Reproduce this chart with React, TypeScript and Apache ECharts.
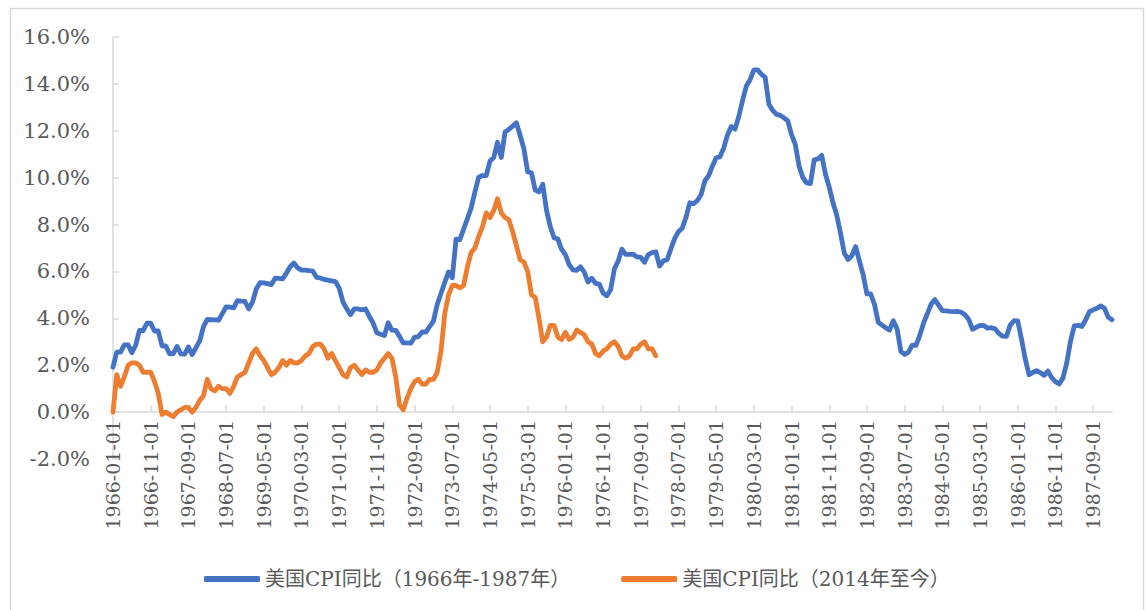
import React, { useEffect, useRef } from "react";
import * as echarts from "echarts";

const START_YEAR = 1966;
const START_MONTH = 1;

// 美国CPI同比（1966年-1987年）, monthly from 1966-01 to 1988-02, %
const cpi1966 = [
  1.92, 2.56, 2.56, 2.87, 2.87, 2.53, 2.85, 3.48, 3.48, 3.79, 3.79, 3.46,
  3.46, 2.83, 2.82, 2.49, 2.49, 2.80, 2.48, 2.47, 2.78, 2.45, 2.75, 3.04,
  3.65, 3.95, 3.94, 3.93, 3.92, 4.20, 4.49, 4.48, 4.45, 4.75, 4.73, 4.72,
  4.40, 4.69, 5.25, 5.52, 5.51, 5.48, 5.44, 5.71, 5.70, 5.68, 5.93, 6.20,
  6.36, 6.15, 6.06, 6.06, 6.04, 6.01, 5.75, 5.72, 5.66, 5.63, 5.60, 5.57,
  5.29, 4.70, 4.40, 4.16, 4.40, 4.40, 4.36, 4.40, 4.08, 3.80, 3.38, 3.32,
  3.27, 3.81, 3.50, 3.49, 3.23, 2.95, 2.95, 2.94, 3.19, 3.22, 3.42, 3.41,
  3.65, 3.88, 4.59, 5.06, 5.53, 5.98, 5.73, 7.38, 7.36, 7.80, 8.25, 8.71,
  9.39, 10.02, 10.09, 10.09, 10.71, 10.86, 11.51, 10.86, 11.95, 12.06, 12.20, 12.34,
  11.80, 11.23, 10.25, 10.21, 9.47, 9.39, 9.72, 8.60, 7.91, 7.44, 7.38, 6.94,
  6.72, 6.29, 6.07, 6.05, 6.20, 5.97, 5.55, 5.71, 5.49, 5.46, 5.08, 4.96,
  5.22, 6.11, 6.44, 6.95, 6.73, 6.73, 6.73, 6.62, 6.60, 6.39, 6.72, 6.80,
  6.84, 6.23, 6.45, 6.50, 6.97, 7.41, 7.70, 7.84, 8.31, 8.93, 8.89, 9.02,
  9.28, 9.86, 10.09, 10.49, 10.85, 10.89, 11.26, 11.82, 12.18, 12.07, 12.61, 13.29,
  13.91, 14.18, 14.60, 14.60, 14.41, 14.28, 13.13, 12.87, 12.70, 12.66, 12.55, 12.42,
  11.83, 11.41, 10.49, 10.00, 9.78, 9.75, 10.76, 10.80, 10.95, 10.14, 9.59, 8.92,
  8.39, 7.62, 6.78, 6.51, 6.68, 7.06, 6.44, 5.85, 5.04, 5.04, 4.59, 3.83,
  3.71, 3.59, 3.50, 3.90, 3.55, 2.58, 2.46, 2.56, 2.86, 2.85, 3.27, 3.79,
  4.19, 4.60, 4.80, 4.56, 4.33, 4.32, 4.30, 4.29, 4.30, 4.26, 4.15, 3.95,
  3.53, 3.62, 3.70, 3.69, 3.58, 3.60, 3.55, 3.35, 3.24, 3.23, 3.71, 3.90,
  3.89, 3.11, 2.26, 1.59, 1.69, 1.77, 1.68, 1.57, 1.75, 1.47, 1.30, 1.20,
  1.46, 2.10, 3.03, 3.68, 3.70, 3.65, 3.93, 4.28, 4.36, 4.43, 4.53, 4.43,
  4.05, 3.94,
];

// 美国CPI同比（2014年至今）, aligned to the same month positions, %
const cpi2014 = [
  0.0,
  1.6, 1.1, 1.5, 2.0, 2.1, 2.1, 2.0, 1.7, 1.7, 1.7, 1.3, 0.8,
  -0.1, 0.0, -0.1, -0.2, 0.0, 0.1, 0.2, 0.2, 0.0, 0.2, 0.5, 0.7,
  1.4, 1.0, 0.9, 1.1, 1.0, 1.0, 0.8, 1.1, 1.5, 1.6, 1.7, 2.1,
  2.5, 2.7, 2.4, 2.2, 1.9, 1.6, 1.7, 1.9, 2.2, 2.0, 2.2, 2.1,
  2.1, 2.2, 2.4, 2.5, 2.8, 2.9, 2.9, 2.7, 2.3, 2.5, 2.2, 1.9,
  1.6, 1.5, 1.9, 2.0, 1.8, 1.6, 1.8, 1.7, 1.7, 1.8, 2.1, 2.3,
  2.5, 2.3, 1.5, 0.3, 0.1, 0.6, 1.0, 1.3, 1.4, 1.2, 1.2, 1.4,
  1.4, 1.7, 2.6, 4.2, 5.0, 5.4, 5.4, 5.3, 5.4, 6.2, 6.8, 7.0,
  7.5, 7.9, 8.5, 8.3, 8.6, 9.1, 8.5, 8.3, 8.2, 7.7, 7.1, 6.5,
  6.4, 6.0, 5.0, 4.9, 4.0, 3.0, 3.2, 3.7, 3.7, 3.2, 3.1, 3.4,
  3.1, 3.2, 3.5, 3.4, 3.3, 3.0, 2.9, 2.5, 2.4, 2.6, 2.7, 2.9,
  3.0, 2.8, 2.4, 2.3, 2.4, 2.7, 2.7, 2.9, 3.0, 2.7, 2.7,
  2.4,
];

const SERIES_NAMES = ["美国CPI同比（1966年-1987年）", "美国CPI同比（2014年至今）"];
const COLORS = ["#4472C4", "#ED7D31"];
const Y_MIN = -2;
const Y_MAX = 16;
const Y_STEP = 2;

const categories: string[] = [];
for (let i = 0; i < cpi1966.length; i++) {
  const m = START_MONTH - 1 + i;
  const y = START_YEAR + Math.floor(m / 12);
  const mm = (m % 12) + 1;
  categories.push(`${y}-${mm < 10 ? "0" + mm : mm}-01`);
}

const FONT = "'DejaVu Serif', 'Noto Sans CJK SC', serif";
const TEXT_COLOR = "#595959";
const AXIS_COLOR = "#d9d9d9";

export default function App() {
  const ref = useRef<HTMLDivElement>(null);
  useEffect(() => {
    document.body.style.margin = "0";
    if (!ref.current) return;
    const chart = echarts.init(ref.current, undefined, { renderer: "svg" });
    chart.setOption({
      animation: false,
      backgroundColor: "#ffffff",
      textStyle: { fontFamily: FONT },
      graphic: [
        {
          type: "rect",
          shape: { x: 10.5, y: 8.5, width: 1133, height: 620 },
          style: { fill: "none", stroke: AXIS_COLOR, lineWidth: 1.5 },
          silent: true,
        },
      ],
      grid: { left: 113, right: 35, top: 37, bottom: 151, containLabel: false },
      legend: {
        left: 199,
        top: 564,
        itemGap: 51,
        itemWidth: 56,
        itemHeight: 6,
        icon: "roundRect",
        textStyle: { fontFamily: FONT, fontSize: 20, color: TEXT_COLOR },
        data: SERIES_NAMES,
      },
      xAxis: {
        type: "category",
        data: categories,
        boundaryGap: false,
        axisLine: { onZero: true, lineStyle: { color: AXIS_COLOR, width: 1.5 } },
        axisTick: { show: true, inside: true, length: 7, interval: 9, lineStyle: { color: AXIS_COLOR, width: 1.5 } },
        axisLabel: {
          interval: 9,
          rotate: 90,
          margin: -39,
          fontFamily: FONT,
          fontSize: 19,
          color: TEXT_COLOR,
        },
        splitLine: { show: false },
      },
      yAxis: {
        type: "value",
        min: Y_MIN,
        max: Y_MAX,
        interval: Y_STEP,
        axisLine: { show: true, lineStyle: { color: AXIS_COLOR, width: 1.5 } },
        axisTick: { show: true, inside: true, length: 6, lineStyle: { color: AXIS_COLOR, width: 1.5 } },
        axisLabel: {
          margin: 23,
          fontFamily: FONT,
          fontSize: 21,
          color: TEXT_COLOR,
          formatter: (v: number) => `${v.toFixed(1)}%`,
        },
        splitLine: { show: false },
      },
      series: [
        {
          name: SERIES_NAMES[0],
          type: "line",
          data: cpi1966,
          showSymbol: false,
          symbol: "none",
          color: COLORS[0],
          lineStyle: { color: COLORS[0], width: 4.8, join: "round", cap: "round" },
          z: 2,
        },
        {
          name: SERIES_NAMES[1],
          type: "line",
          data: cpi2014,
          showSymbol: false,
          symbol: "none",
          color: COLORS[1],
          lineStyle: { color: COLORS[1], width: 4.8, join: "round", cap: "round" },
          z: 3,
        },
      ],
    });
    return () => chart.dispose();
  }, []);
  return <div ref={ref} style={{ width: 1147, height: 610 }} />;
}
